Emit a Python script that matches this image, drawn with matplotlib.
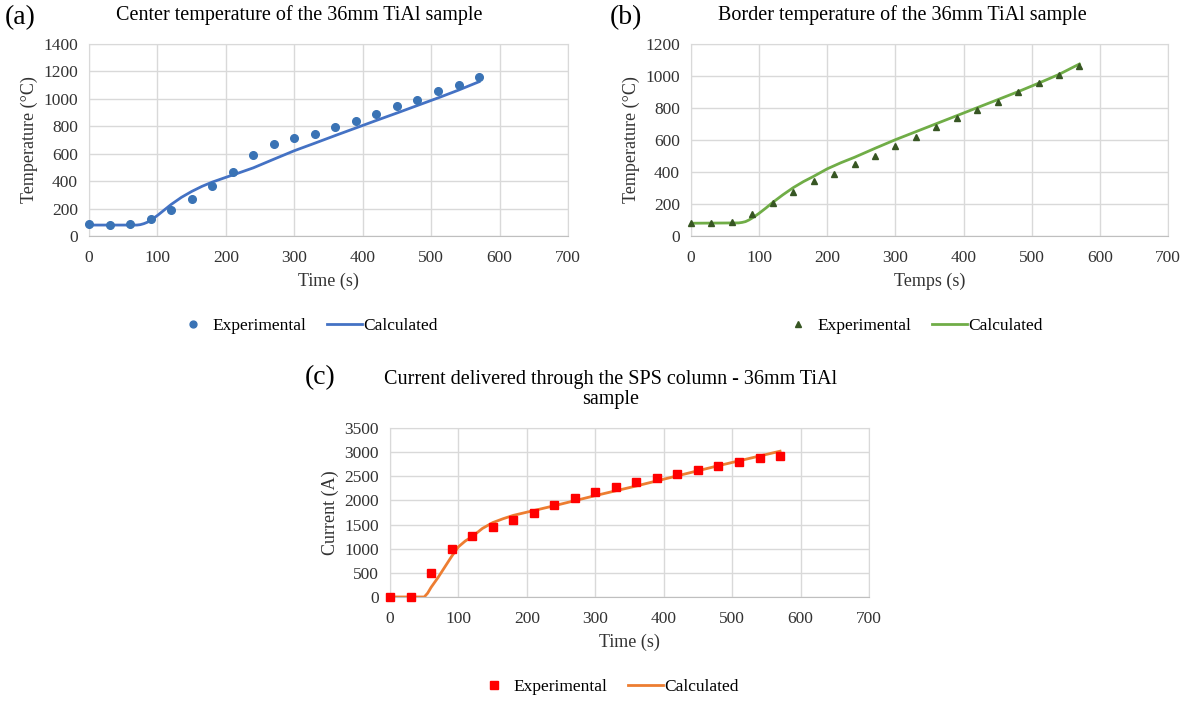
import numpy as np
import matplotlib
matplotlib.use("Agg")
from matplotlib import pyplot as plt

plt.rcParams['font.family'] = ['Liberation Serif', 'DejaVu Serif']

# sampled experimental times (s)
t_exp = [0, 30, 60, 90, 120, 150, 180, 210, 240, 270, 300, 330, 360, 390, 420, 450, 480, 510, 540, 570]

# (a) center temperature
center_exp = [85, 80, 85, 125, 190, 270, 365, 470, 590, 670, 715, 745, 795, 840, 890, 945, 995, 1055, 1100, 1160]
center_calc_t = [0, 60, 70, 75, 80, 85, 90, 95, 100, 110, 120, 135, 150, 165, 180, 200, 220, 240,
                 270, 300, 330, 360, 390, 420, 450, 480, 510, 540, 570]
center_calc = [80, 80, 80, 83, 90, 100, 115, 132, 150, 190, 230, 282, 325, 362, 393, 428, 462, 497,
               560, 622, 677, 733, 788, 843, 897, 952, 1007, 1064, 1125]

# (b) border temperature
border_exp = [80, 80, 85, 135, 205, 275, 345, 390, 450, 500, 560, 620, 680, 735, 785, 840, 900, 955, 1005, 1060]
border_calc_t = [0, 70, 75, 80, 85, 90, 95, 100, 110, 120, 135, 150, 165, 180, 200, 220, 240,
                 270, 300, 330, 360, 390, 420, 450, 480, 510, 540, 570]
border_calc = [80, 82, 85, 90, 100, 113, 127, 142, 175, 210, 258, 302, 340, 373, 420, 458, 492,
               548, 602, 652, 702, 752, 802, 852, 902, 955, 1010, 1075]

# (c) current
current_exp = [0, 0, 500, 1000, 1270, 1450, 1590, 1740, 1900, 2050, 2180, 2280, 2380, 2460, 2550, 2630, 2710, 2800, 2870, 2930]
current_calc_t = [0, 50, 55, 60, 70, 80, 90, 100, 110, 120, 135, 150, 165, 180, 210, 240, 270,
                  300, 330, 360, 390, 420, 450, 480, 510, 540, 570]
current_calc = [0, 0, 80, 200, 400, 620, 840, 1040, 1160, 1250, 1420, 1540, 1620, 1690, 1790, 1890, 1995,
                2100, 2200, 2300, 2405, 2510, 2615, 2720, 2820, 2920, 3020]


def style_axes(ax, ymax, ystep, xlabel, ylabel):
    ax.set_xlim(0, 700)
    ax.set_ylim(0, ymax)
    ax.set_xticks(range(0, 701, 100))
    ax.set_yticks(range(0, ymax + 1, ystep))
    ax.grid(True, color='#d9d9d9', linewidth=1)
    ax.set_axisbelow(True)
    for side in ['top', 'right', 'left']:
        ax.spines[side].set_color('#d9d9d9')
    ax.spines['bottom'].set_color('#bfbfbf')
    ax.tick_params(length=0, labelsize=12.5, colors='#333333')
    ax.tick_params(axis='x', pad=10)
    ax.tick_params(axis='y', pad=8)
    ax.set_xlabel(xlabel, fontsize=13, color='#333333', labelpad=5)
    ax.set_ylabel(ylabel, fontsize=13, color='#333333')


def add_legend(ax, xc, yoff):
    ax.legend(loc='upper center', bbox_to_anchor=(xc, yoff), ncol=2, frameon=False,
              fontsize=12.5, handlelength=2.0, handletextpad=0.1, columnspacing=1.2,
              markerscale=0.9)


fig = plt.figure(figsize=(11.95, 7.01), dpi=100)

ax_a = fig.add_axes([0.0745, 0.6633, 0.4008, 0.2739])
ax_a.plot(t_exp, center_exp, 'o', color='#3a73b5', markersize=5.5, label='Experimental', clip_on=False, zorder=3)
ax_a.plot(center_calc_t, center_calc, '-', color='#4472c4', linewidth=2, label='Calculated')
style_axes(ax_a, 1400, 200, 'Time (s)', 'Temperature (°C)')
ax_a.set_title('Center temperature of the 36mm TiAl sample', fontsize=14.5, pad=17, x=0.438)
add_legend(ax_a, 0.455, -0.345)

ax_b = fig.add_axes([0.5782, 0.6633, 0.3992, 0.2739])
ax_b.plot(t_exp, border_exp, '^', color='#375623', markersize=5, label='Experimental', clip_on=False, zorder=3)
ax_b.plot(border_calc_t, border_calc, '-', color='#70ad47', linewidth=2, label='Calculated')
style_axes(ax_b, 1200, 200, 'Temps (s)', 'Temperature (°C)')
ax_b.set_title('Border temperature of the 36mm TiAl sample', fontsize=14.5, pad=17, x=0.444)
add_legend(ax_b, 0.463, -0.345)

ax_c = fig.add_axes([0.3264, 0.1484, 0.4008, 0.241])
ax_c.plot(t_exp, current_exp, 's', color='#ff0000', markersize=6, label='Experimental', clip_on=False, zorder=3)
ax_c.plot(current_calc_t, current_calc, '-', color='#ed7d31', linewidth=2, label='Calculated')
style_axes(ax_c, 3500, 500, 'Time (s)', 'Current (A)')
ax_c.set_title('Current delivered through the SPS column - 36mm TiAl\nsample', fontsize=14.5, pad=17,
               x=0.461, linespacing=1.1)
add_legend(ax_c, 0.455, -0.39)

fig.text(0.004, 0.975, '(a)', fontsize=20, va='center', ha='left')
fig.text(0.51, 0.975, '(b)', fontsize=20, va='center', ha='left')
fig.text(0.255, 0.462, '(c)', fontsize=20, va='center', ha='left')

fig.savefig('out.png', dpi=100)
